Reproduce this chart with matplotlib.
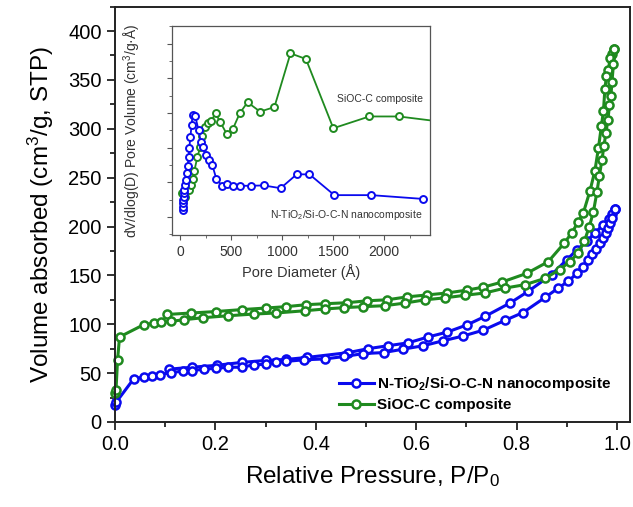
import matplotlib
matplotlib.use('Agg')
import matplotlib.pyplot as plt
from matplotlib.ticker import MultipleLocator, NullFormatter

plt.rcParams['font.family'] = ['Liberation Sans', 'DejaVu Sans']
plt.rcParams['mathtext.default'] = 'regular'

# isotherm, N-TiO2/Si-O-C-N (blue)
blue_ads_p = [0.0, 0.002, 0.037, 0.057, 0.074, 0.09, 0.112, 0.135, 0.153, 0.177, 0.202, 0.226,
              0.253, 0.276, 0.301, 0.321, 0.341, 0.376, 0.418, 0.457, 0.495, 0.535, 0.574, 0.614,
              0.653, 0.694, 0.734, 0.777, 0.813, 0.857, 0.883, 0.903, 0.92, 0.933, 0.943, 0.951,
              0.959, 0.966, 0.973, 0.978, 0.983, 0.987, 0.991, 0.996]
blue_ads_v = [17, 20, 44, 46, 47, 48.5, 50.6, 52, 52.6, 54, 55, 56,
              56, 58.5, 59, 61, 62, 63.6, 64.5, 67, 70, 71, 74.5, 78,
              83, 88, 94, 104, 112, 127.5, 137, 144, 152, 159, 166, 172,
              177, 183, 188, 193.5, 198.6, 203.8, 209, 218]
blue_des_p = [0.996, 0.99, 0.985, 0.973, 0.956, 0.94, 0.92, 0.9, 0.87, 0.823, 0.787, 0.737,
              0.702, 0.662, 0.624, 0.584, 0.544, 0.504, 0.465, 0.382, 0.341, 0.301, 0.253,
              0.203, 0.153, 0.107]
blue_des_v = [218, 213, 208, 202, 193.5, 185, 176, 166, 150.8, 133.6, 121.7, 108,
              99.5, 92, 87, 81, 78, 75, 71, 66, 64, 63, 61,
              58, 56, 54]

# isotherm, SiOC-C (green)
green_ads_p = [0.0, 0.002, 0.005, 0.009, 0.057, 0.077, 0.092, 0.112, 0.137, 0.176, 0.226, 0.276,
               0.321, 0.378, 0.418, 0.457, 0.495, 0.538, 0.578, 0.618, 0.657, 0.697, 0.737,
               0.777, 0.817, 0.857, 0.886, 0.906, 0.923, 0.935, 0.945, 0.953, 0.96, 0.965,
               0.97, 0.974, 0.978, 0.982, 0.985, 0.988, 0.99, 0.993, 0.995]
green_ads_v = [30, 33, 63, 87, 99.5, 101, 102, 103, 104.6, 106.7, 108.7, 110.4,
               111.5, 113.8, 115.6, 117, 118, 119, 121.7, 125, 127, 129.6, 132,
               137, 140.5, 147, 156, 164, 173, 185, 200, 215, 235, 252,
               268, 282, 296, 309, 324, 334, 348, 366, 382]
green_des_p = [0.995, 0.99, 0.986, 0.983, 0.979, 0.976, 0.973, 0.969, 0.963, 0.956, 0.946,
               0.933, 0.923, 0.91, 0.895, 0.863, 0.82, 0.77, 0.734, 0.702, 0.662, 0.622,
               0.582, 0.542, 0.502, 0.462, 0.419, 0.381, 0.341, 0.301, 0.253, 0.201, 0.152, 0.104]
green_des_v = [382, 377, 372, 360, 354, 341, 318, 303, 280, 257, 236,
               214, 205, 193.5, 183, 164, 152, 143, 138, 135, 132, 130,
               128, 125, 124, 122, 121, 120, 118, 116.6, 115, 113, 111.5, 110]

# pore size distribution (inset), y in arbitrary units
blue_pore_d = [26, 29, 29, 32, 35, 38, 42, 48, 58, 67, 74, 83, 90, 100, 112, 122, 148, 180,
               202, 228, 250, 282, 315, 356, 411, 462, 523, 591, 690, 819, 985, 1143, 1268,
               1512, 1875, 2385]
blue_pore_v = [1.20, 1.30, 1.39, 1.49, 1.59, 1.68, 1.78, 1.92, 2.07, 2.26, 2.47, 2.74, 3.00,
               3.30, 3.65, 3.94, 3.91, 3.51, 3.17, 3.01, 2.79, 2.63, 2.50, 2.09, 1.90, 1.95,
               1.90, 1.90, 1.90, 1.91, 1.83, 2.23, 2.23, 1.63, 1.63, 1.52]
green_pore_d = [16, 51, 83, 106, 122, 138, 170, 196, 218, 244, 273, 305, 347, 395, 456, 517,
                584, 661, 783, 924, 1082, 1233, 1502, 1855, 2144, 2500]
green_pore_v = [1.70, 1.59, 1.78, 1.92, 2.09, 2.32, 2.74, 3.01, 3.34, 3.61, 3.70, 3.77, 3.99,
                3.73, 3.40, 3.54, 3.99, 4.31, 4.04, 4.17, 5.72, 5.56, 3.56, 3.90, 3.90, 3.77]

blue = '#0a0aee'
green = '#1f8a1f'

fig = plt.figure(figsize=(6.33, 5.07), dpi=100)
ax = fig.add_axes([0.1817, 0.1677, 0.8136, 0.8193])

style = dict(marker='o', markersize=5.8, markerfacecolor='white', markeredgewidth=1.8,
             linewidth=2.2, clip_on=False)
ax.plot(blue_des_p, blue_des_v, color=blue, **style)
ax.plot(blue_ads_p, blue_ads_v, color=blue, label='N-TiO$_2$/Si-O-C-N nanocomposite', **style)
ax.plot(green_des_p, green_des_v, color=green, **style)
ax.plot(green_ads_p, green_ads_v, color=green, label='SiOC-C composite', **style)

ax.set_xlim(0, 1.026)
ax.set_ylim(0, 425)
ax.xaxis.set_major_locator(MultipleLocator(0.2))
ax.xaxis.set_minor_locator(MultipleLocator(0.1))
ax.yaxis.set_major_locator(MultipleLocator(50))
ax.yaxis.set_minor_locator(MultipleLocator(25))
ax.tick_params(which='both', direction='out', top=False, right=False, width=1.3,
               color='#222222', labelsize=14.5)
ax.tick_params(which='major', length=6)
ax.tick_params(which='minor', length=3.5)
for sp in ax.spines.values():
    sp.set_linewidth(1.4)
    sp.set_color('#222222')
ax.set_xlabel('Relative Pressure, P/P$_0$', fontsize=17.5, labelpad=7)
ax.set_ylabel('Volume absorbed (cm$^3$/g, STP)', fontsize=17.5, labelpad=9)

leg = ax.legend(loc='lower right', bbox_to_anchor=(0.99, -0.01), frameon=False,
                prop={'weight': 'bold', 'size': 11}, handlelength=2.3,
                handletextpad=0.2, labelspacing=0.35)

# inset
ax2 = fig.add_axes([0.2717, 0.5365, 0.4076, 0.4122])
ax2.set_facecolor('white')
istyle = dict(marker='o', markersize=5, markerfacecolor='white', markeredgewidth=1.4,
              linewidth=1.3)
ax2.plot(green_pore_d, green_pore_v, color=green, **istyle)
ax2.plot(blue_pore_d, blue_pore_v, color=blue, **istyle)
ax2.set_xlim(-80, 2450)
ax2.set_ylim(0.48, 6.51)
ax2.xaxis.set_major_locator(MultipleLocator(500))
ax2.xaxis.set_minor_locator(MultipleLocator(250))
ax2.yaxis.set_major_locator(MultipleLocator(1))
ax2.yaxis.set_minor_locator(MultipleLocator(0.5))
ax2.yaxis.set_major_formatter(NullFormatter())
ax2.tick_params(which='both', direction='out', top=False, right=False, color='#555555',
                labelsize=10, labelcolor='#333333')
ax2.tick_params(which='major', length=3.5)
ax2.tick_params(which='minor', length=2)
for sp in ax2.spines.values():
    sp.set_linewidth(0.9)
    sp.set_color('#555555')
ax2.set_xlabel('Pore Diameter (Å)', fontsize=10.5, color='#333333', labelpad=4)
ax2.set_ylabel('dV/dlog(D) Pore Volume (cm$^3$/g·Å)', fontsize=10, color='#333333', labelpad=14)
ax2.text(0.973, 0.651, 'SiOC-C composite', transform=ax2.transAxes, ha='right', va='center',
         fontsize=7.5, color='#333333')
ax2.text(0.972, 0.097, 'N-TiO$_2$/Si-O-C-N nanocomposite', transform=ax2.transAxes,
         ha='right', va='center', fontsize=7.5, color='#333333')

fig.savefig('out.png', dpi=100)
